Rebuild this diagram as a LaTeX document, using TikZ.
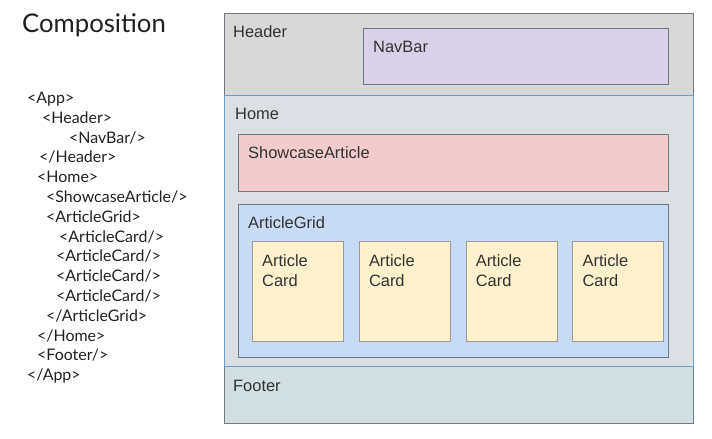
\documentclass[tikz,border=0pt]{standalone}
\usepackage{fontspec}
\setmainfont{Liberation Sans}
\newfontfamily\latofont{Lato}
\usetikzlibrary{positioning}
\definecolor{boxline}{HTML}{707A84}
\definecolor{homeline}{HTML}{6A9FD0}
\definecolor{cardline}{HTML}{9A9A9A}
\definecolor{hdrfill}{HTML}{D8D8D8}
\definecolor{navfill}{HTML}{D9D1E8}
\definecolor{homefill}{HTML}{DCDFE4}
\definecolor{showfill}{HTML}{F3CBCC}
\definecolor{gridfill}{HTML}{C9DAF6}
\definecolor{cardfill}{HTML}{FFF1CC}
\definecolor{footfill}{HTML}{D1DFE3}
\definecolor{labeltext}{HTML}{333333}
\definecolor{treetext}{HTML}{202020}
\tikzset{
  box/.style={rectangle, draw=boxline, line width=.8bp, anchor=north west, inner sep=0pt},
  card/.style={box, fill=cardfill, draw=cardline, minimum width=91bp, minimum height=100bp},
  lbl/.style={anchor=base west, inner sep=0pt, text=labeltext, align=left,
    font=\fontsize{16.5}{20}\selectfont},
  tree/.style={anchor=base west, inner sep=0pt, text=treetext,
    font=\latofont\fontsize{16}{18}\selectfont},
}

\begin{document}
\begin{tikzpicture}[x=1bp, y=-1bp]
	\useasboundingbox (0,0) rectangle (712,439);
	
	% left column
	\node[anchor=base west, inner sep=0pt, text=treetext,
	  font=\latofont\fontsize{25.8}{30}\selectfont] (title) at (22,33) {Composition};
	\foreach \x/\k/\txt in {27/0/{<App>}, 42/1/{<Header>}, 69/2/{<NavBar/>},
	  39/3/{</Header>}, 37/4/{<Home>}, 46/5/{<ShowcaseArticle/>},
	  46/6/{<ArticleGrid>}, 59/7/{<ArticleCard/>}, 56/8/{<ArticleCard/>},
	  56/9/{<ArticleCard/>}, 56/10/{<ArticleCard/>}, 46/11/{</ArticleGrid>},
	  37/12/{</Home>}, 37/13/{<Footer/>}, 27/14/{</App>}}
	\node[tree] (t\k) at (\x,{103.5+19.8*\k}) {\txt};
	
	% page boxes
	\node[box, fill=hdrfill, minimum width=469bp, minimum height=82bp] (hdr) at (224,13) {};
	\node[box, fill=footfill, minimum width=469bp, minimum height=57bp] (foot) at (224,366) {};
	\node[box, fill=homefill, draw=homeline, minimum width=469bp, minimum height=271bp] (home) at (224,95) {};
	\node[box, fill=navfill, minimum width=305bp, minimum height=56bp] (nav) at (363,28) {};
	\node[box, fill=showfill, minimum width=430bp, minimum height=57bp] (show) at (238,134) {};
	\node[box, fill=gridfill, minimum width=430bp, minimum height=153bp] (grid) at (238,204) {};
	
	% cards
	\node[card] (c1) at ([shift={(14,37)}]grid.north west) {};
	\node[card, right=15bp of c1] (c2) {};
	\node[card, right=15bp of c2] (c3) {};
	\node[card, right=15bp of c3] (c4) {};
	
	% labels
	\node[lbl] (hdrL) at ([shift={(9,25)}]hdr.north west) {Header};
	\node[lbl] (navL) at ([shift={(10,25)}]nav.north west) {NavBar};
	\node[lbl] (homeL) at ([shift={(11,25)}]home.north west) {Home};
	\node[lbl] (showL) at ([shift={(10,25)}]show.north west) {ShowcaseArticle};
	\node[lbl] (gridL) at ([shift={(10,25)}]grid.north west) {ArticleGrid};
	\node[lbl] (footL) at ([shift={(9,25)}]foot.north west) {Footer};
	\foreach \c in {1,2,3,4}
	\node[lbl, anchor=north west] (c\c L) at ([shift={(10,13.5)}]c\c.north west) {Article\\Card};

\end{tikzpicture}
\end{document}
